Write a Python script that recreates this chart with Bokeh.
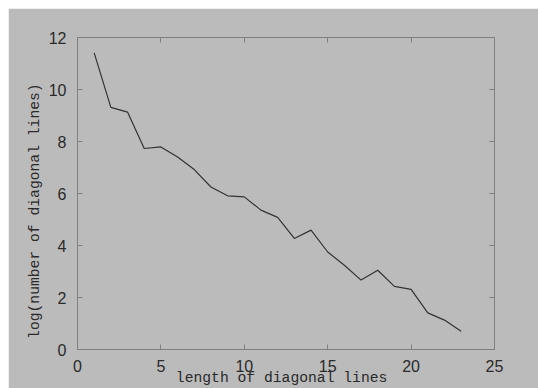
from bokeh.plotting import figure
from bokeh.models import LinearAxis, FixedTicker, CustomJSTickFormatter, Range1d
from bokeh.embed import file_html
from bokeh.resources import INLINE

# data
lengths = list(range(1, 24))
log_counts = [11.41, 9.31, 9.13, 7.73, 7.79, 7.40, 6.92, 6.25, 5.91, 5.87, 5.36, 5.08,
              4.27, 4.59, 3.75, 3.24, 2.67, 3.05, 2.43, 2.31, 1.41, 1.13, 0.70]
x_ticks = [0, 5, 10, 15, 20, 25]
y_ticks = [0, 2, 4, 6, 8, 10, 12]
x_label = "length of diagonal lines\u00a0"
y_label = "log(number of diagonal lines)\u00a0\u00a0\u00a0\u00a0"

BG = "#bbbbbb"
FRAME = "#808080"
TEXT = "#2a2a2a"

p = figure(width=530, height=380,
           min_border_left=69, min_border_right=44, min_border_top=29, min_border_bottom=39,
           x_range=Range1d(0, 25), y_range=Range1d(0, 12),
           output_backend="svg", toolbar_location=None,
           background_fill_color=BG, border_fill_color=BG,
           outline_line_color=FRAME, outline_line_width=1)
p.margin = (8, 0, 0, 8)
p.grid.visible = False

p.line(lengths, log_counts, line_color="#333333", line_width=1.2)

def style(ax, ticks, labels=True):
    ax.ticker = FixedTicker(ticks=ticks)
    ax.axis_line_color = FRAME
    ax.major_tick_line_color = FRAME
    ax.major_tick_in = 5
    ax.major_tick_out = 0
    ax.minor_tick_line_color = None
    ax.major_label_text_font = "Liberation Sans"
    ax.major_label_text_font_size = "16px"
    ax.major_label_text_color = TEXT
    if not labels:
        ax.formatter = CustomJSTickFormatter(code="return ''")
        ax.major_label_standoff = 0

style(p.xaxis[0], x_ticks)
style(p.yaxis[0], y_ticks)
p.xaxis[0].major_label_standoff = 10
p.yaxis[0].major_label_standoff = 11

p.xaxis[0].axis_label = x_label
p.yaxis[0].axis_label = y_label
for ax in (p.xaxis[0], p.yaxis[0]):
    ax.axis_label_text_font = "Liberation Mono"
    ax.axis_label_text_font_size = "14.7px"
    ax.axis_label_text_font_style = "normal"
    ax.axis_label_text_color = TEXT
p.xaxis[0].axis_label_standoff = -5
p.yaxis[0].axis_label_standoff = 3

top = LinearAxis()
style(top, x_ticks, labels=False)
p.add_layout(top, "above")
right = LinearAxis()
style(right, y_ticks, labels=False)
p.add_layout(right, "right")

open("out.html", "w").write(file_html(p, INLINE))
